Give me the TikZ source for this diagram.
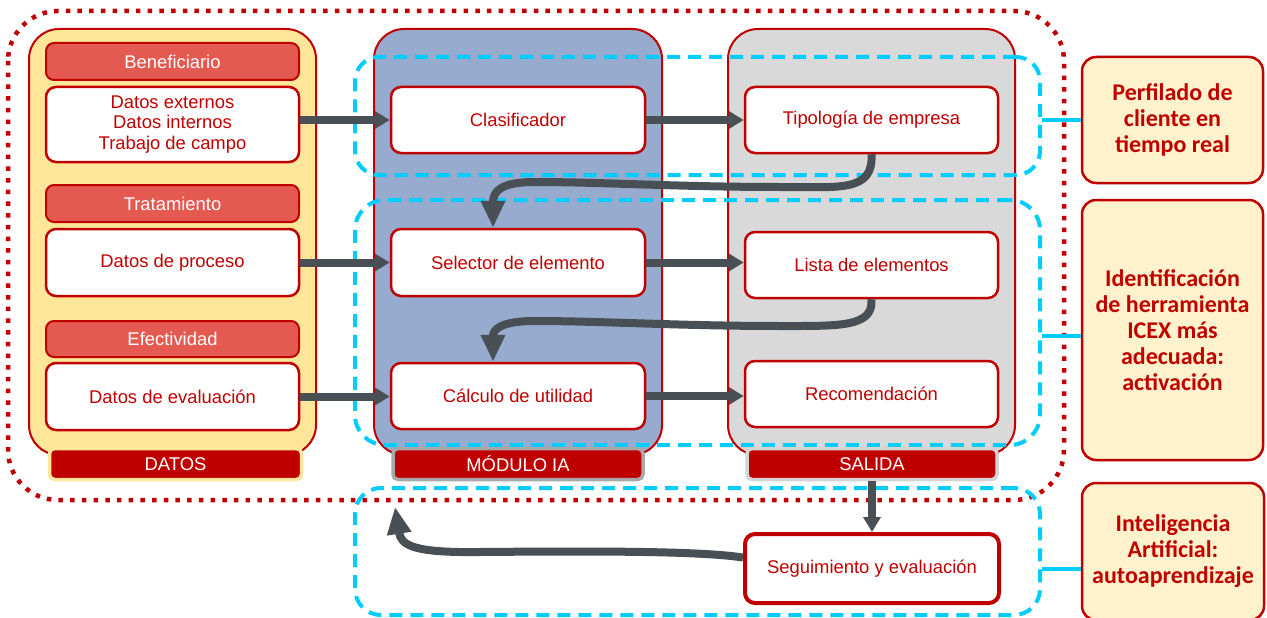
\documentclass[tikz,border=0pt]{standalone}
\usepackage{fontspec}
\setmainfont{Liberation Sans}
\newfontfamily\notefont{Carlito}
\usetikzlibrary{arrows.meta}

\definecolor{dred}{RGB}{192,0,0}
\definecolor{salmon}{RGB}{228,90,80}
\definecolor{colyellow}{RGB}{255,230,153}
\definecolor{colblue}{RGB}{150,171,206}
\definecolor{colgrey}{RGB}{217,217,217}
\definecolor{noteyellow}{RGB}{255,242,204}
\definecolor{skyline}{RGB}{0,204,255}
\definecolor{arrowgrey}{RGB}{72,79,85}
\definecolor{barrimblue}{RGB}{168,168,168}
\definecolor{barrimgrey}{RGB}{212,212,212}

\tikzset{
  txt/.style={font=\fontsize{18.4}{20.5}\selectfont},
  column/.style={draw=dred, line width=2pt, rounded corners=30pt},
  inbox/.style={txt, draw=dred, fill=white, line width=2.5pt, rounded corners=10pt,
    minimum width=253pt, minimum height=66pt, inner sep=0pt, align=center, text=dred},
  headbar/.style={txt, draw=dred, fill=salmon, line width=2pt, rounded corners=8pt,
    minimum width=253pt, minimum height=37pt, inner sep=0pt, text=white},
  footbar/.style={txt, fill=dred, line width=3.5pt, rounded corners=5pt,
    minimum width=250pt, minimum height=31pt, inner sep=0pt, text=white},
  note/.style={draw=dred, fill=noteyellow, line width=2.5pt, rounded corners=14pt,
    minimum width=181pt, inner sep=0pt, align=center, text=dred,
    font=\notefont\bfseries\fontsize{24}{26}\selectfont},
  zone/.style={draw=skyline, line width=4pt, dash pattern=on 13pt off 8pt,
    minimum width=685pt, inner sep=0pt},
  link/.style={draw=skyline, line width=4pt},
  flow/.style={draw=arrowgrey, line width=8pt, -{Triangle[length=15pt,width=17pt]}},
  loopback/.style={draw=arrowgrey, line width=8pt, -{Triangle[length=27pt,width=23pt]}},
  frame/.style={draw=dred, line width=4.5pt, dash pattern=on 4.5pt off 7.2pt,
    rounded corners=50pt},
}

\begin{document}
\begin{tikzpicture}[x=1pt, y=-1pt]
\useasboundingbox (0,0) rectangle (1267,618);
\clip (0,0) rectangle (1267,618);

% outer dotted frame
\draw[frame] (8,11) rectangle (1064,500);

% the three columns
\draw[column, fill=colyellow] (29,29) rectangle (316,455);
\draw[column, fill=colblue]   (374,29) rectangle (662,455);
\draw[column, fill=colgrey]   (728,29) rectangle (1015,455);

% dashed zones
\node[zone, minimum height=118pt, rounded corners=24pt] (cy1) at (697.5,116) {};
\node[zone, minimum height=245pt, rounded corners=30pt] (cy2) at (697.5,322.5) {};
\node[zone, minimum height=127pt, rounded corners=26pt] (cy3) at (697.5,551.5) {};

% DATOS column
\node[headbar] (ben)  at (172.5,61.5) {Beneficiario};
\node[inbox, minimum height=75pt] (dext) at (172.5,124.5) {Datos externos\\Datos internos\\Trabajo de campo};
\node[headbar] (trat) at (172.5,203.5) {Tratamiento};
\node[inbox, minimum height=67pt] (dproc) at (172.5,262.5) {Datos de proceso};
\node[headbar, minimum height=36pt] (efec) at (172.5,339) {Efectividad};
\node[inbox, minimum height=67pt] (deval) at (172.5,396.5) {Datos de evaluación};
\node[footbar, draw=colyellow, minimum width=252pt] (datos) at (175.5,464) {DATOS};

% MODULO IA column
\node[inbox, minimum width=254pt] (clas) at (518,120) {Clasificador};
\node[inbox, minimum width=254pt, minimum height=67pt] (sel) at (518,262.5) {Selector de elemento};
\node[inbox, minimum width=254pt] (calc) at (518,396) {Cálculo de utilidad};
\node[footbar, draw=barrimblue] (modulo) at (518,464) {MÓDULO IA};

% SALIDA column
\node[inbox] (tipo)  at (871.5,120) {Tipología de empresa};
\node[inbox] (lista) at (871.5,265) {Lista de elementos};
\node[inbox] (recom) at (871.5,394) {Recomendación};
\node[footbar, draw=barrimgrey] (salida) at (872,464) {SALIDA};

% follow-up box
\node[inbox, line width=4pt, minimum width=254pt, minimum height=69pt] (seg) at (872,568.5) {Seguimiento y evaluación};

% straight flows
\draw[flow] (dext.east |- clas.west) -- (clas.west);
\draw[flow] (clas.east) -- (tipo.west);
\draw[flow] (dproc.east) -- (sel.west);
\draw[flow] (sel.east) -- (sel.east -| lista.west);
\draw[flow] (deval.east) -- (deval.east -| calc.west);
\draw[flow] (calc.east) -- (calc.east -| recom.west);
\draw[flow] (salida.south) -- (seg.north);

% feedback loops
\draw[loopback] (tipo.south) .. controls +(2,38) and +(60,0) .. (780,187)
  .. controls (680,187) and (600,182) .. (535,182)
  .. controls (500,182) and ([xshift=-25pt,yshift=36pt]sel.north) .. ([xshift=-25pt]sel.north);
\draw[loopback] (lista.south) .. controls +(2,28) and +(60,0) .. (780,326)
  .. controls (680,326) and (600,321) .. (535,321)
  .. controls (500,321) and ([xshift=-25pt,yshift=32pt]calc.north) .. ([xshift=-25pt]calc.north);
\coordinate (relearn) at (395,507);
\draw[loopback] ([yshift=11pt]seg.west) .. controls (700,551) and (600,551) .. (480,552)
  .. controls (412,553) and (401,545) .. (relearn);

% outcome notes
\node[note, minimum height=126pt] (perf) at (1172.5,120) {Perfilado de\\cliente en\\tiempo real};
\node[note, minimum height=260pt] (ident) at (1172.5,330) {Identificación\\de herramienta\\ICEX más\\adecuada:\\activación};
\node[note, minimum width=182pt, minimum height=137pt] (intel) at (1173,551.5) {Inteligencia\\Artificial:\\autoaprendizaje};

\draw[link] (perf.west) -- (perf.west -| cy1.east);
\draw[link] (ident.west |- 0,336) -- (cy2.east |- 0,336);
\draw[link] (intel.west |- seg.east) -- (cy3.east |- seg.east);
\end{tikzpicture}
\end{document}
